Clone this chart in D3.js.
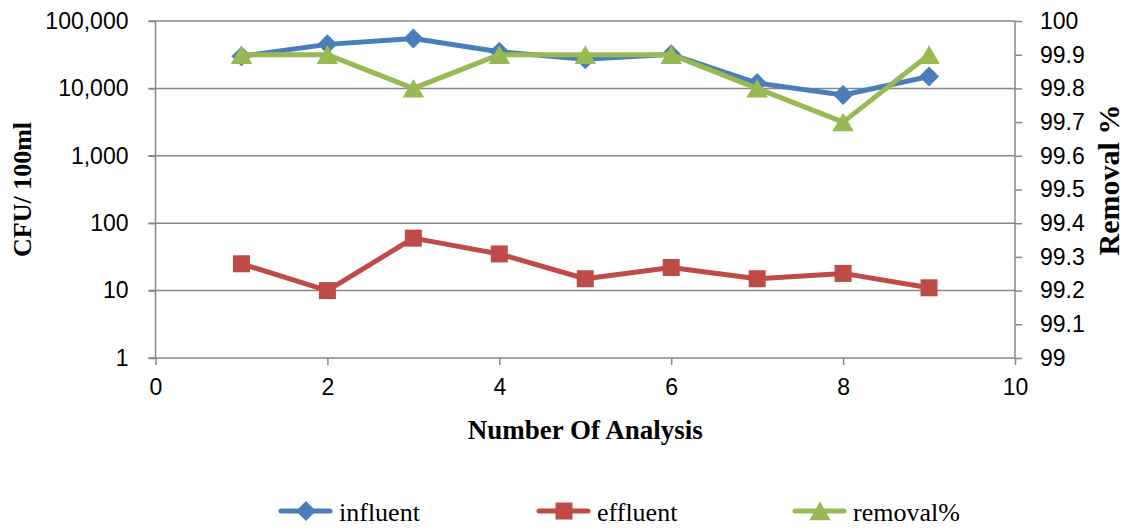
<!DOCTYPE html>
<html><head><meta charset="utf-8">
<script src="https://cdn.jsdelivr.net/npm/d3@7"></script>
<style>body{margin:0;background:#fff}svg{display:block}</style>
</head><body>
<svg id="c" width="1129" height="531"></svg>
<script>
const analysis = [1,2,3,4,5,6,7,8,9];
const influent = [30000,45000,55000,35000,27000,32000,12000,8000,15000];
const effluent = [25,10,60,35,15,22,15,18,11];
const removal = [99.9,99.9,99.8,99.9,99.9,99.9,99.8,99.7,99.9];
const leftTicks = [1,10,100,1000,10000,100000];
const rightTicks = [99,99.1,99.2,99.3,99.4,99.5,99.6,99.7,99.8,99.9,100];
const xTicks = [0,2,4,6,8,10];
const seriesNames = ["influent","effluent","removal%"];
const colors = ["#4A7EBB","#BE4B48","#98B954"];

const svg = d3.select("#c");
const L=155.5, R=1015, T=21, B=358;
const x = d3.scaleLinear().domain([0,10]).range([L,R]);
const yL = d3.scaleLog().domain([1,100000]).range([B,T]);
const yR = d3.scaleLinear().domain([99,100]).range([B,T]);
const grid="#878787";
const tickFont = "'Liberation Sans', Arial, sans-serif";
const serif = "'Liberation Serif', 'Times New Roman', serif";

// gridlines
svg.append("g").selectAll("line").data(leftTicks.slice(1)).join("line")
  .attr("x1",L-7).attr("x2",R).attr("y1",d=>yL(d)).attr("y2",d=>yL(d))
  .attr("stroke",grid).attr("stroke-width",1.5);

const gl = svg.append("g").attr("transform",`translate(${L},0)`)
  .call(d3.axisLeft(yL).tickValues(leftTicks).tickFormat(d3.format(",")).tickSize(7).tickPadding(20));
const gr = svg.append("g").attr("transform",`translate(${R},0)`)
  .call(d3.axisRight(yR).tickValues(rightTicks).tickFormat(d=>d3.format("")(+d.toFixed(1))).tickSize(7).tickPadding(18));
const gb = svg.append("g").attr("transform",`translate(0,${B})`)
  .call(d3.axisBottom(x).tickValues(xTicks).tickSize(7).tickPadding(14));
[gl,gr,gb].forEach(g=>{
  g.select(".domain").attr("stroke",grid).attr("stroke-width",1.5);
  g.selectAll(".tick line").attr("stroke",grid).attr("stroke-width",1.5);
  g.selectAll(".tick text").attr("fill","#000").style("font-family",tickFont).style("font-size","23px");
});
gl.select(".domain").attr("d",`M0,${B}V${T}`);
gr.select(".domain").attr("d",`M0,${B}V${T}`);
gb.select(".domain").attr("d",`M${L-7},0H${R}`);

// axis titles
svg.append("text").attr("x",(L+R)/2).attr("y",439).attr("text-anchor","middle")
  .style("font-family",serif).style("font-weight","bold").style("font-size","27px").text("Number Of Analysis");
svg.append("text").attr("transform",`translate(31,${(T+B)/2}) rotate(-90)`).attr("text-anchor","middle")
  .style("font-family",serif).style("font-weight","bold").style("font-size","26px").text("CFU/ 100ml");
svg.append("text").attr("transform",`translate(1119,180) rotate(-90)`).attr("text-anchor","middle")
  .style("font-family",serif).style("font-weight","bold").style("font-size","30px").text("Removal %");

// markers
const diamond = "M0,-10L10,0L0,10L-10,0Z";
function markerPath(i){
  if(i===0) return diamond;
  if(i===1) return d3.symbol().type(d3.symbolSquare).size(289)();
  return d3.symbol().type(d3.symbolTriangle).size(200)();
}
const markerDy = [0,0,3];
function drawSeries(vals, yscale, i){
  const pts = analysis.map((a,k)=>[x(a), yscale(vals[k])]);
  svg.append("path").attr("d", d3.line()(pts)).attr("fill","none")
    .attr("stroke",colors[i]).attr("stroke-width",5).attr("stroke-linejoin","round").attr("stroke-linecap","round");
  svg.append("g").selectAll("path").data(pts).join("path")
    .attr("transform",d=>`translate(${d[0]},${d[1] + markerDy[i]})`)
    .attr("d", markerPath(i)).attr("fill",colors[i]);
}
drawSeries(influent, yL, 0);
drawSeries(effluent, yL, 1);
drawSeries(removal, yR, 2);

// legend
const legX = [279, 537, 793];
seriesNames.forEach((n,i)=>{
  const g = svg.append("g").attr("transform",`translate(${legX[i]},511)`);
  g.append("line").attr("x1",2).attr("x2",51).attr("stroke",colors[i]).attr("stroke-width",5).attr("stroke-linecap","round");
  g.append("path").attr("transform",`translate(27,${markerDy[i]})`).attr("d",markerPath(i)).attr("fill",colors[i]);
  g.append("text").attr("x",60).attr("y",10).style("font-family",serif).style("font-size","26px").text(n);
});
</script>
</body></html>
